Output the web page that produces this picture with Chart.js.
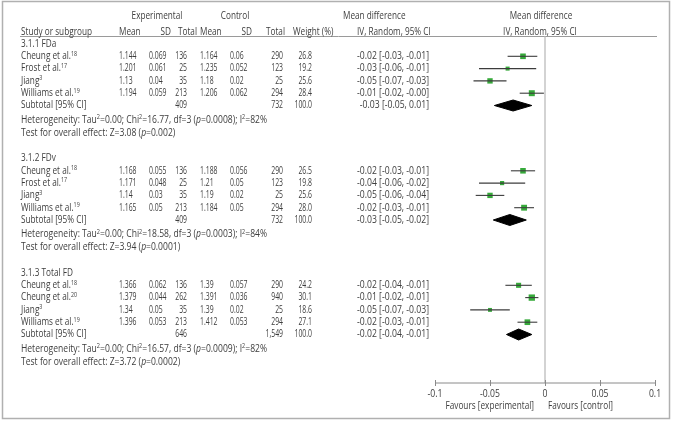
<!DOCTYPE html>
<html>
<head>
<meta charset="utf-8">
<script src="https://cdn.jsdelivr.net/npm/chart.js@4.4.1/dist/chart.umd.min.js"></script>
<style>
  html, body { margin: 0; padding: 0; background: #fff; }
  canvas { display: block; }
</style>
</head>
<body>
<canvas id="forest" width="673" height="421"></canvas>
<script>
// ---- data ----
const subgroups = ['3.1.1 FDa', '3.1.2 FDv', '3.1.3 Total FD'];

const studyNames = [
    'Cheung et al.{18}', 'Frost et al.{17}', 'Jiang{3}', 'Williams et al.{19}',
    'Cheung et al.{18}', 'Frost et al.{17}', 'Jiang{3}', 'Williams et al.{19}',
    'Cheung et al.{18}', 'Cheung et al.{20}', 'Jiang{3}', 'Williams et al.{19}'
];
const expMean = ['1.144', '1.201', '1.13', '1.194', '1.168', '1.171', '1.14', '1.165', '1.366', '1.379', '1.34', '1.396'];
const expSD = ['0.069', '0.061', '0.04', '0.059', '0.055', '0.048', '0.03', '0.05', '0.062', '0.044', '0.05', '0.053'];
const expN = ['136', '25', '35', '213', '136', '25', '35', '213', '136', '262', '35', '213'];
const ctlMean = ['1.164', '1.235', '1.18', '1.206', '1.188', '1.21', '1.19', '1.184', '1.39', '1.391', '1.39', '1.412'];
const ctlSD = ['0.06', '0.052', '0.02', '0.062', '0.056', '0.05', '0.02', '0.05', '0.057', '0.036', '0.02', '0.053'];
const ctlN = ['290', '123', '25', '294', '290', '123', '25', '294', '290', '940', '25', '294'];
const weight = [26.8, 19.2, 25.6, 28.4, 26.5, 19.8, 25.6, 28.0, 24.2, 30.1, 18.6, 27.1];
const mdText = [
    '-0.02 [-0.03, -0.01]', '-0.03 [-0.06, -0.01]', '-0.05 [-0.07, -0.03]', '-0.01 [-0.02, -0.00]',
    '-0.02 [-0.03, -0.01]', '-0.04 [-0.06, -0.02]', '-0.05 [-0.06, -0.04]', '-0.02 [-0.03, -0.01]',
    '-0.02 [-0.04, -0.01]', '-0.01 [-0.02, -0.01]', '-0.05 [-0.07, -0.03]', '-0.02 [-0.03, -0.01]'
];
const md = [-0.020, -0.034, -0.050, -0.012, -0.020, -0.039, -0.050, -0.019, -0.024, -0.012, -0.050, -0.016];
const ciLo = [-0.034, -0.060, -0.065, -0.023, -0.031, -0.060, -0.063, -0.028, -0.036, -0.018, -0.068, -0.025];
const ciHi = [-0.007, -0.008, -0.035, -0.001, -0.009, -0.018, -0.037, -0.010, -0.012, -0.006, -0.032, -0.007];

const subExpN = ['409', '409', '646'];
const subCtlN = ['732', '732', '1,549'];
const subMdText = ['-0.03 [-0.05, 0.01]', '-0.03 [-0.05, -0.02]', '-0.02 [-0.04, -0.01]'];
const subMd = [-0.029, -0.032, -0.024];
const subLo = [-0.046, -0.047, -0.035];
const subHi = [-0.012, -0.017, -0.012];
const hetText = [
    'Heterogeneity: Tau{2}=0.00; Chi{2}=16.77, df=3 (*p*=0.0008); I{2}=82%',
    'Heterogeneity: Tau{2}=0.00; Chi{2}=18.58, df=3 (*p*=0.0003); I{2}=84%',
    'Heterogeneity: Tau{2}=0.00; Chi{2}=16.57, df=3 (*p*=0.0009); I{2}=82%'
];
const testText = [
    'Test for overall effect: Z=3.08 (*p*=0.002)',
    'Test for overall effect: Z=3.94 (*p*=0.0001)',
    'Test for overall effect: Z=3.72 (*p*=0.0002)'
];
const tickValues = [-0.1, -0.05, 0, 0.05, 0.1];
const tickLabels = ['-0.1', '-0.05', '0', '0.05', '0.1'];

// ---- layout (y scale runs 0..383 top to bottom) ----
const PER_GROUP = 4;
const ROW = 12.3;
const groupTop = i => 44 + i * 114.5;
const studyY = k => groupTop(Math.floor(k / PER_GROUP)) + ROW * (k % PER_GROUP + 1);
const subY = g => groupTop(g) + ROW * 5;

const FAM = '"Open Sans", "Noto Sans", sans-serif';
const SIZE = 10;
const SUP = 6.5;
const INK = '#3d3d3d';
const GREEN = '#36aa3a';

// ---- datasets ----
const datasets = [];
md.forEach((m, k) => {
    datasets.push({
        data: [{x: ciLo[k], y: studyY(k)}, {x: ciHi[k], y: studyY(k)}],
        showLine: true,
        borderColor: '#3c3c3c',
        borderWidth: 1.1,
        pointRadius: 0
    });
});
datasets.push({
    data: md.map((m, k) => ({x: m, y: studyY(k)})),
    pointStyle: 'rect',
    pointRadius: weight.map(w => w * 0.21 / Math.SQRT2),
    backgroundColor: GREEN,
    borderColor: GREEN,
    borderWidth: 0
});
subMd.forEach((m, g) => {
    const y = subY(g);
    datasets.push({
        data: [
            {x: subLo[g], y: y}, {x: m, y: y - 5.5}, {x: subHi[g], y: y},
            {x: m, y: y + 5.5}, {x: subLo[g], y: y}
        ],
        showLine: true,
        fill: 'shape',
        backgroundColor: '#000',
        borderColor: '#000',
        borderWidth: 1,
        pointRadius: 0
    });
});

// ---- text helpers ----
let sx = 1;
function segments(str) {
    return str.split(/(\{[^}]*\}|\*[^*]*\*)/).filter(s => s.length).map(s => {
        if (s[0] === '{') return {t: s.slice(1, -1), sup: true};
        if (s[0] === '*') return {t: s.slice(1, -1), it: true};
        return {t: s};
    });
}
function segFont(s) {
    if (s.sup) return `${SUP}px ${FAM}`;
    if (s.it) return `italic ${SIZE}px ${FAM}`;
    return `${SIZE}px ${FAM}`;
}
function richWidth(ctx, str) {
    let total = 0;
    segments(str).forEach(s => { ctx.font = segFont(s); total += ctx.measureText(s.t).width; });
    return total;
}
function drawRich(ctx, str, x, y, align, k) {
    const f = sx * (k || 1);
    const segs = segments(str);
    let total = 0;
    segs.forEach(s => { ctx.font = segFont(s); s.w = ctx.measureText(s.t).width * f; total += s.w; });
    let cx = align === 'right' ? x - total : align === 'center' ? x - total / 2 : x;
    segs.forEach(s => {
        ctx.save();
        ctx.font = segFont(s);
        ctx.translate(cx, y + (s.sup ? -2.5 : 0));
        ctx.scale(f, 1);
        ctx.fillText(s.t, 0, 0);
        ctx.restore();
        cx += s.w;
    });
}

const forestText = {
    id: 'forestText',
    beforeDatasetsDraw(chart) {
        const {ctx, scales: {x, y}} = chart;
        ctx.save();
        // outer frame
        ctx.strokeStyle = '#b0b0b0';
        ctx.lineWidth = 1.5;
        ctx.strokeRect(2.5, 1.5, 667, 417);
        // header rule
        ctx.strokeStyle = '#9a9a9a';
        ctx.lineWidth = 1;
        ctx.beginPath();
        ctx.moveTo(20, y.getPixelForValue(36.5));
        ctx.lineTo(657, y.getPixelForValue(36.5));
        ctx.stroke();
        // zero line
        ctx.strokeStyle = '#c4c4c4';
        ctx.lineWidth = 1.5;
        ctx.beginPath();
        ctx.moveTo(x.getPixelForValue(0), y.getPixelForValue(36.5));
        ctx.lineTo(x.getPixelForValue(0), y.getPixelForValue(383));
        ctx.stroke();
        // axis
        const ay = y.getPixelForValue(383);
        ctx.strokeStyle = '#8a8a8a';
        ctx.lineWidth = 1;
        ctx.beginPath();
        ctx.moveTo(x.getPixelForValue(tickValues[0]), ay);
        ctx.lineTo(x.getPixelForValue(tickValues[tickValues.length - 1]), ay);
        tickValues.forEach(v => {
            const px = Math.round(x.getPixelForValue(v)) + 0.5;
            ctx.moveTo(px, ay - 3);
            ctx.lineTo(px, ay + 3);
        });
        ctx.stroke();
        ctx.restore();
    },
    afterDraw(chart) {
        const {ctx, scales: {x, y}} = chart;
        ctx.save();
        // condense the text to the widths seen in the figure
        sx = 71 / richWidth(ctx, 'Study or subgroup');
        const kHet = 246 / (sx * richWidth(ctx, hetText[0]));
        const kNum = 17.5 / (sx * richWidth(ctx, '0.069'));
        const kMd = 72 / (sx * richWidth(ctx, mdText[0]));
        ctx.fillStyle = INK;
        ctx.textBaseline = 'middle';
        const py = v => y.getPixelForValue(v);

        // headers
        drawRich(ctx, 'Experimental', 157, py(16), 'center');
        drawRich(ctx, 'Control', 235, py(16), 'center');
        drawRich(ctx, 'Mean difference', 343, py(16), 'left');
        drawRich(ctx, 'Mean difference', 541, py(16), 'center');
        drawRich(ctx, 'Study or subgroup', 21, py(32), 'left');
        drawRich(ctx, 'Mean', 119, py(32), 'left');
        drawRich(ctx, 'SD', 171, py(32), 'right');
        drawRich(ctx, 'Total', 197, py(32), 'right');
        drawRich(ctx, 'Mean', 200, py(32), 'left');
        drawRich(ctx, 'SD', 252, py(32), 'right');
        drawRich(ctx, 'Total', 285, py(32), 'right');
        drawRich(ctx, 'Weight (%)', 293, py(32), 'left');
        drawRich(ctx, 'IV, Random, 95% CI', 357, py(32), 'left');
        drawRich(ctx, 'IV, Random, 95% CI', 540, py(32), 'center');

        // study rows
        studyNames.forEach((name, k) => {
            const yy = py(studyY(k));
            drawRich(ctx, name, 21, yy, 'left');
            drawRich(ctx, expMean[k], 119, yy, 'left', kNum);
            drawRich(ctx, expSD[k], 149, yy, 'left', kNum);
            drawRich(ctx, expN[k], 187, yy, 'right', kNum);
            drawRich(ctx, ctlMean[k], 200, yy, 'left', kNum);
            drawRich(ctx, ctlSD[k], 230, yy, 'left', kNum);
            drawRich(ctx, ctlN[k], 283, yy, 'right', kNum);
            drawRich(ctx, weight[k].toFixed(1), 312, yy, 'right', kNum);
            drawRich(ctx, mdText[k], 429, yy, 'right', kMd);
        });

        // subgroup blocks
        subgroups.forEach((g, i) => {
            drawRich(ctx, g, 21, py(groupTop(i)), 'left');
            const sy = py(subY(i));
            drawRich(ctx, 'Subtotal [95% CI]', 21, sy, 'left');
            drawRich(ctx, subExpN[i], 187, sy, 'right', kNum);
            drawRich(ctx, subCtlN[i], 283, sy, 'right', kNum);
            drawRich(ctx, '100.0', 312, sy, 'right', kNum);
            drawRich(ctx, subMdText[i], 429, sy, 'right', kMd);
            drawRich(ctx, hetText[i], 21, py(groupTop(i) + 76), 'left', kHet);
            drawRich(ctx, testText[i], 21, py(groupTop(i) + 89), 'left', kHet);
        });

        // axis labels
        tickValues.forEach((v, i) => drawRich(ctx, tickLabels[i], x.getPixelForValue(v), py(383) + 11, 'center', 1.05));
        drawRich(ctx, 'Favours [experimental]', 534, py(383) + 23, 'right');
        drawRich(ctx, 'Favours [control]', 548, py(383) + 23, 'left');
        ctx.restore();
    }
};

new Chart(document.getElementById('forest').getContext('2d'), {
    type: 'scatter',
    data: {datasets: datasets},
    options: {
        responsive: false,
        animation: false,
        layout: {autoPadding: false, padding: {left: 435, right: 18, top: 0, bottom: 38}},
        scales: {
            x: {type: 'linear', min: -0.1, max: 0.1, display: false},
            y: {type: 'linear', min: 0, max: 383, reverse: true, display: false}
        },
        plugins: {
            legend: {display: false},
            tooltip: {enabled: false}
        }
    },
    plugins: [forestText]
});
</script>
</body>
</html>
